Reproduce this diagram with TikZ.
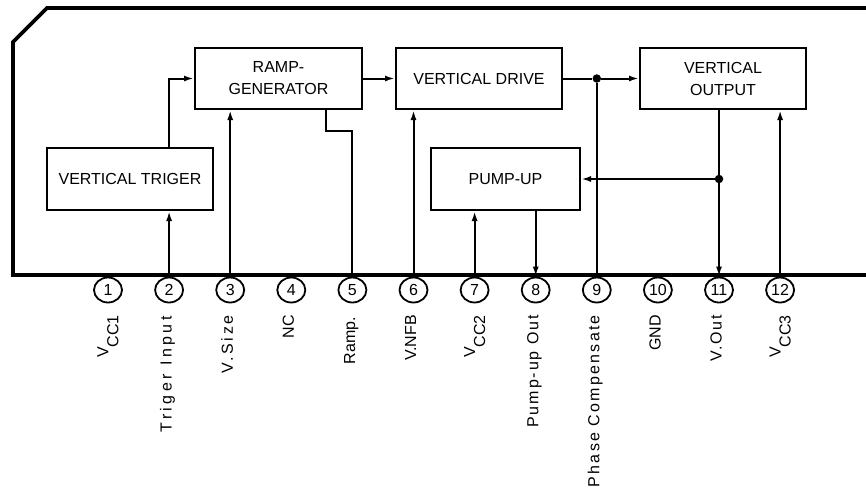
\documentclass[tikz,border=0pt]{standalone}
\usepackage{fontspec}
\setmainfont{Liberation Sans}
\usetikzlibrary{arrows.meta,shapes.geometric}
\newcommand\lsp[2]{{\addfontfeature{LetterSpace=#1}#2}}
\newcommand\vcc[1]{V\raisebox{-10pt}{CC#1}}
\begin{document}
\begin{tikzpicture}[x=1pt,y=-1pt,
  block/.style={draw,line width=2pt,inner sep=0pt,font=\fontsize{16}{22}\selectfont,align=center},
  conn/.style={line width=2pt},
  arr/.style={conn,-{Latex[length=10pt,width=6pt]}},
  pin/.style={draw,ellipse,line width=1.8pt,inner sep=0pt,minimum width=28pt,minimum height=25pt,font=\fontsize{16}{16}\selectfont},
  dotnode/.style={circle,fill,inner sep=0pt,minimum size=8.5pt},
  lab/.style={rotate=90,anchor=mid east,inner sep=0pt,font=\fontsize{16}{16}\selectfont},
  labv/.style={rotate=90,anchor=east,inner sep=0pt,font=\fontsize{16}{16}\selectfont},
  body/.style={line width=3.8pt}]
\useasboundingbox (0,0) rectangle (866,490);
% package outline
\draw[body,line join=miter] (866,8) -- (47,8) -- (13,42) -- (13,275) -- (866,275);
% blocks
\node[block,minimum width=167pt,minimum height=61pt] (ramp) at (278.5,78.5) {RAMP-\\GENERATOR};
\node[block,minimum width=166pt,minimum height=61pt] (drive) at (479,78.5) {VERTICAL DRIVE};
\node[block,minimum width=166pt,minimum height=61pt] (vout) at (723,78.5) {VERTICAL\\OUTPUT};
\node[block,minimum width=166pt,minimum height=62pt] (trig) at (130,179) {VERTICAL TRIGER};
\node[block,minimum width=149pt,minimum height=62pt] (pump) at (505.5,179) {PUMP-UP};
% pins
\foreach \i in {1,...,12}{
  \node[pin] (p\i) at ({108+61.1*(\i-1)},290) {\i};
}
% labels
\node[labv] (l1) at (p1 |- 0,315) {\vcc{1}};
\node[lab] (l2) at (p2 |- 0,316) {\lsp{22}{Triger Input}};
\node[lab] (l3) at (p3 |- 0,315) {\lsp{17}{V.Size}};
\node[lab] (l4) at (p4 |- 0,315) {NC};
\node[lab] (l5) at (p5 |- 0,317) {Ramp.};
\node[lab] (l6) at (p6 |- 0,315) {V.NFB};
\node[labv] (l7) at (p7 |- 0,315) {\vcc{2}};
\node[lab] (l8) at (p8 |- 0,315) {\lsp{12}{Pump-up Out}};
\node[lab] (l9) at (p9 |- 0,315) {\lsp{14}{Phase Compensate}};
\node[lab] (l10) at (p10 |- 0,315) {GND};
\node[lab] (l11) at (p11 |- 0,315) {\lsp{11}{V.Out}};
\node[labv] (l12) at (p12 |- 0,315) {\vcc{3}};
% connections
\draw[arr] (trig.north -| p2) |- (ramp.west);
\draw[arr] (p2.north) -- (p2.north |- trig.south);
\draw[arr] (p3.north) -- (p3.north |- ramp.south);
\coordinate (r5) at (326,131);
\draw[conn] (ramp.south -| r5) -- (r5) -| (p5.north);
\draw[arr] (ramp.east) -- (drive.west);
\draw[arr] (p6.north) -- (p6.north |- drive.south);
\node[dotnode] (d9) at (p9 |- drive.east) {};
\draw[conn] (drive.east) -- (d9);
\draw[arr] (d9) -- (vout.west);
\draw[conn] (d9) -- (p9.north);
\draw[arr] (vout.south -| p11) -- (p11.north);
\node[dotnode] (d11) at (p11 |- pump.east) {};
\draw[arr] (d11) -- (pump.east);
\draw[arr] (p12.north) -- (p12.north |- vout.south);
\draw[arr] (p7.north) -- (p7.north |- pump.south);
\draw[arr] (pump.south -| p8) -- (p8.north);
\end{tikzpicture}
\end{document}
